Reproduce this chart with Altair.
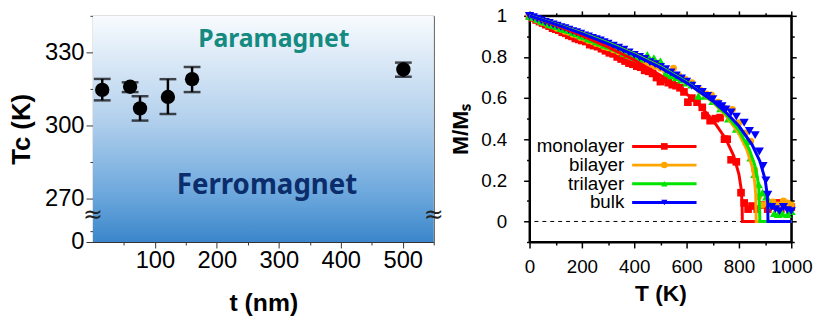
import altair as alt
import pandas as pd

# ---------------- Left panel data: Tc vs thickness ----------------
t_nm = [15, 60, 76, 121, 160, 501]
tc_k = [314.6, 315.9, 307.0, 311.7, 319.0, 323.0]
tc_lo = [310.3, 313.7, 302.0, 304.7, 313.7, 320.0]
tc_hi = [319.1, 317.7, 312.0, 319.0, 324.0, 325.8]

# ---------------- Right panel data: M/Ms vs T ----------------
series_names = ["monolayer", "bilayer", "trilayer", "bulk"]

mono_T = [0, 12, 25, 38, 50, 62, 75, 88, 100, 112, 125, 138, 150, 162, 175, 188, 200, 215, 230, 245,
          260, 275, 290, 305, 320, 335, 350, 365, 380, 395, 410, 425, 440, 455, 470, 485, 500, 515,
          530, 545, 560, 575, 590, 605, 620, 640, 660, 670, 690, 710, 728, 745, 755, 770, 790, 808,
          820, 835, 850, 870, 890, 910, 925, 945, 960, 980, 1000]
mono_M = [1.0, 0.99, 0.98, 0.972, 0.965, 0.957, 0.95, 0.94, 0.935, 0.93, 0.92, 0.915, 0.905, 0.9,
          0.89, 0.885, 0.88, 0.875, 0.86, 0.855, 0.85, 0.84, 0.83, 0.82, 0.815, 0.80, 0.79, 0.78,
          0.77, 0.765, 0.755, 0.75, 0.735, 0.73, 0.72, 0.70, 0.68, 0.69, 0.675, 0.665, 0.66, 0.65,
          0.63, 0.58, 0.60, 0.58, 0.555, 0.515, 0.49, 0.50, 0.505, 0.40, 0.40, 0.30, 0.29, 0.14,
          0.09, 0.06, 0.075, 0.06, 0.08, 0.06, 0.075, 0.09, 0.06, 0.085, 0.07]

bi_T = [0, 15, 30, 45, 60, 75, 90, 105, 120, 135, 150, 165, 180, 195, 210, 225, 240, 255, 270, 285,
        300, 320, 340, 360, 380, 400, 420, 440, 460, 480, 500, 520, 550, 570, 595, 620, 650, 675,
        695, 720, 745, 775, 800, 825, 845, 860, 875, 890, 910, 930, 950, 970, 985, 1000]
bi_M = [1.0, 0.99, 0.98, 0.97, 0.965, 0.955, 0.95, 0.94, 0.935, 0.925, 0.92, 0.91, 0.905, 0.895,
        0.89, 0.88, 0.875, 0.865, 0.86, 0.85, 0.845, 0.835, 0.825, 0.815, 0.805, 0.795, 0.785,
        0.775, 0.765, 0.755, 0.745, 0.73, 0.745, 0.71, 0.69, 0.675, 0.64, 0.62, 0.615, 0.58, 0.55,
        0.545, 0.48, 0.43, 0.39, 0.25, 0.12, 0.08, 0.09, 0.095, 0.08, 0.10, 0.09, 0.08]

tri_T = [0, 15, 30, 45, 60, 75, 90, 105, 120, 135, 150, 165, 180, 195, 210, 225, 240, 255, 270, 285,
         300, 320, 340, 360, 380, 400, 420, 450, 475, 500, 520, 540, 560, 580, 600, 620, 645, 670,
         700, 730, 760, 790, 810, 830, 845, 860, 875, 890, 905, 920, 935, 950, 965, 985, 1000]
tri_M = [1.0, 0.995, 0.985, 0.975, 0.97, 0.96, 0.955, 0.95, 0.94, 0.935, 0.93, 0.92, 0.915, 0.905,
         0.9, 0.89, 0.885, 0.875, 0.87, 0.86, 0.855, 0.845, 0.835, 0.82, 0.81, 0.80, 0.79, 0.81,
         0.795, 0.78, 0.72, 0.71, 0.70, 0.69, 0.675, 0.665, 0.61, 0.61, 0.585, 0.55, 0.50, 0.45,
         0.44, 0.39, 0.31, 0.23, 0.18, 0.14, 0.12, 0.08, 0.04, 0.035, 0.04, 0.035, 0.05]

bulk_T = [0, 15, 30, 45, 60, 75, 90, 105, 120, 135, 150, 165, 180, 195, 210, 225, 240, 255, 270,
          285, 300, 320, 340, 360, 380, 400, 420, 440, 460, 480, 500, 520, 540, 560, 580, 600, 620,
          640, 660, 680, 700, 720, 735, 750, 770, 790, 820, 840, 862, 878, 892, 903, 910, 925, 940,
          955, 970, 985, 1000]
bulk_M = [1.0, 0.993, 0.985, 0.978, 0.97, 0.965, 0.958, 0.952, 0.945, 0.94, 0.932, 0.925, 0.92,
          0.913, 0.905, 0.9, 0.893, 0.886, 0.88, 0.872, 0.865, 0.855, 0.845, 0.835, 0.822, 0.81,
          0.80, 0.79, 0.775, 0.765, 0.752, 0.74, 0.725, 0.71, 0.695, 0.68, 0.66, 0.645, 0.63, 0.61,
          0.595, 0.57, 0.56, 0.545, 0.53, 0.51, 0.48, 0.44, 0.42, 0.34, 0.27, 0.20, 0.13, 0.07,
          0.06, 0.05, 0.07, 0.055, 0.05]

# fitted curves
mono_fit_T = [0, 100, 200, 300, 400, 500, 600, 650, 700, 750, 780, 800, 808, 812, 813, 1000]
mono_fit_M = [1, 0.954, 0.904, 0.848, 0.785, 0.711, 0.62, 0.563, 0.494, 0.401, 0.319, 0.229, 0.163, 0.091, 0, 0]
bi_fit_T = [0, 100, 200, 300, 400, 500, 600, 700, 750, 800, 830, 850, 860, 864, 866, 1000]
bi_fit_M = [1, 0.960, 0.917, 0.869, 0.815, 0.753, 0.677, 0.580, 0.515, 0.427, 0.350, 0.268, 0.194, 0.135, 0, 0]
tri_fit_T = [0, 100, 200, 300, 400, 500, 600, 700, 750, 800, 840, 860, 870, 876, 880, 1000]
tri_fit_M = [1, 0.960, 0.916, 0.868, 0.814, 0.752, 0.678, 0.583, 0.522, 0.443, 0.350, 0.276, 0.218, 0.160, 0, 0]
bulk_fit_T = [0, 100, 200, 300, 400, 500, 600, 700, 750, 800, 850, 880, 900, 906, 910, 911, 1000]
bulk_fit_M = [1, 0.958, 0.913, 0.864, 0.810, 0.748, 0.675, 0.586, 0.531, 0.464, 0.374, 0.293, 0.205, 0.15, 0.09, 0, 0]

# ---------------- styles ----------------
FONT = "Liberation Sans"
colors = ["#ff0000", "#ffa500", "#00e400", "#0000ff"]
shapes = ["square", "circle", "triangle-up", "triangle-down"]
sizes = [60, 50, 80, 85]
legend_sizes = [45, 40, 55, 60]

# ================= LEFT PANEL =================
W1, H1 = 345, 229
left_df = pd.DataFrame({"t": t_nm, "Tc": tc_k, "lo": tc_lo, "hi": tc_hi})
xs1 = alt.Scale(domain=[0, 550], nice=False, zero=False)
ys1 = alt.Scale(domain=[0, 270, 345], range=[H1, 185, 0], nice=False, zero=False)

xaxis1 = alt.Axis(
    values=list(range(50, 551, 50)),
    labelExpr="datum.value % 100 === 0 && datum.value <= 500 ? datum.label : ''",
    tickSize={"condition": {"test": "datum.value % 100 === 0", "value": 6}, "value": 3},
    title="t (nm)", titleFontSize=25, titleFontWeight="bold", titleFont=FONT, titleColor="black",
    titlePadding=18,
    labelFontSize=24, labelFont=FONT, labelColor="black", labelPadding=1,
    labelFlush=False, labelOverlap=False, grid=False,
    domainColor="#333", tickColor="#333", domainWidth=1, tickWidth=1,
)
yaxis1 = alt.Axis(
    values=[0, 70, 270, 285, 300, 315, 330, 345],
    labelExpr="(datum.value === 0 || datum.value % 30 === 0) ? datum.label : ''",
    tickSize={"condition": {"test": "datum.value === 0 || datum.value % 30 === 0", "value": 7}, "value": 3},
    title="Tc (K)", titleFontSize=26, titleFontWeight="bold", titleFont=FONT, titleColor="black",
    titlePadding=10,
    labelFontSize=24, labelFont=FONT, labelColor="black", labelPadding=2,
    labelFlush=False, labelOverlap=False, grid=False,
    domainColor="#333", tickColor="#333", domainWidth=1, tickWidth=1,
)

grad = alt.LinearGradient(
    gradient="linear",
    stops=[alt.GradientStop(color="#f8fbfe", offset=0),
           alt.GradientStop(color="#b4d1ed", offset=0.45),
           alt.GradientStop(color="#6aa6dc", offset=0.8),
           alt.GradientStop(color="#3a86ca", offset=1)],
    x1=0, x2=0, y1=0, y2=1,
)

base1 = alt.Chart(left_df)
bg = alt.Chart(pd.DataFrame({"a": [0]})).mark_rect(fill=grad).encode(
    x=alt.X(datum=0, scale=xs1, axis=xaxis1), x2=alt.X2(datum=550),
    y=alt.Y(datum=0, scale=ys1, axis=yaxis1), y2=alt.Y2(datum=345),
)
X1 = alt.X("t:Q", scale=xs1, axis=xaxis1)
bars = base1.mark_rule(color="black", strokeWidth=2.5).encode(
    x=X1, y=alt.Y("lo:Q", scale=ys1, axis=yaxis1), y2="hi:Q")
cap_lo = base1.mark_tick(color="black", orient="horizontal", size=17, thickness=2.5).encode(
    x=X1, y=alt.Y("lo:Q", scale=ys1, axis=yaxis1))
cap_hi = base1.mark_tick(color="black", orient="horizontal", size=17, thickness=2.5).encode(
    x=X1, y=alt.Y("hi:Q", scale=ys1, axis=yaxis1))
dots = base1.mark_circle(size=210, color="black", opacity=1).encode(
    x=X1, y=alt.Y("Tc:Q", scale=ys1, axis=yaxis1))

para = alt.Chart(pd.DataFrame({"t": [292], "Tc": [335.3], "txt": ["Paramagnet"]})).mark_text(
    font="Noto Sans", fontWeight="bold", fontSize=25, color="#148a80", baseline="middle", align="center"
).encode(x=alt.X("t:Q", scale=xs1, axis=xaxis1), y=alt.Y("Tc:Q", scale=ys1, axis=yaxis1), text="txt:N")
ferro = alt.Chart(pd.DataFrame({"t": [281], "Tc": [275.3], "txt": ["Ferromagnet"]})).mark_text(
    font="Noto Sans", fontWeight="bold", fontSize=28, color="#0c2d6c", baseline="middle", align="center"
).encode(x=alt.X("t:Q", scale=xs1, axis=xaxis1), y=alt.Y("Tc:Q", scale=ys1, axis=yaxis1), text="txt:N")
brk = alt.Chart(pd.DataFrame({"t": [0, 550], "Tc": [166, 166], "txt": ["≈", "≈"]})).mark_text(
    font="DejaVu Sans", fontSize=24, color="#222", baseline="middle", align="center"
).encode(x=alt.X("t:Q", scale=xs1, axis=xaxis1), y=alt.Y("Tc:Q", scale=ys1, axis=yaxis1), text="txt:N")

left = alt.layer(bg, bars, cap_lo, cap_hi, dots, para, ferro, brk).properties(
    width=W1, height=H1, view=alt.ViewBackground(stroke="#333", strokeWidth=1))

# ================= RIGHT PANEL =================
W2, H2 = 265, 229
pt_sets = {
    "monolayer": (mono_T, mono_M),
    "bilayer": (bi_T, bi_M),
    "trilayer": (tri_T, tri_M),
    "bulk": (bulk_T, bulk_M),
}
fits = {
    "monolayer": (mono_fit_T, mono_fit_M),
    "bilayer": (bi_fit_T, bi_fit_M),
    "trilayer": (tri_fit_T, tri_fit_M),
    "bulk": (bulk_fit_T, bulk_fit_M),
}

xs2 = alt.Scale(domain=[0, 1000], nice=False, zero=False)
ys2 = alt.Scale(domain=[-0.1, 1.0], nice=False, zero=False)
xticks2 = list(range(0, 1001, 100))
yticks2 = [-0.1, 0, 0.1, 0.2, 0.3, 0.4, 0.5, 0.6, 0.7, 0.8, 0.9, 1.0]
x_major = "datum.value % 200 === 0"
y_major = "round(datum.value * 10) % 2 === 0"
common2 = dict(grid=False, domainColor="black", tickColor="black", domainWidth=2, tickWidth=1.5,
               labelFlush=False, labelOverlap=False)

xaxis2 = alt.Axis(values=xticks2, labelExpr=x_major + " ? '' + datum.value : ''",
                  tickSize={"condition": {"test": x_major, "value": 6}, "value": 3},
                  labelFontSize=19, labelFont=FONT, labelColor="black", labelPadding=10,
                  title="T (K)", titleFontSize=23, titleFontWeight="bold", titleFont=FONT,
                  titleColor="black", titlePadding=6, **common2)
yaxis2 = alt.Axis(values=yticks2,
                  labelExpr="(datum.value >= 0 && " + y_major + ") ? '' + round(datum.value * 10) / 10 : ''",
                  tickSize={"condition": {"test": y_major, "value": 6}, "value": 3},
                  labelFontSize=19, labelFont=FONT, labelColor="black", labelPadding=17,
                  title="M/Mₛ", titleFontSize=23, titleFontWeight="bold", titleFont=FONT,
                  titleColor="black", titlePadding=8, **common2)
xaxis2_top = alt.Axis(values=xticks2, orient="top", labels=False, title=None,
                      tickSize={"condition": {"test": x_major, "value": 5}, "value": 3}, **common2)
yaxis2_right = alt.Axis(values=yticks2, orient="right", labels=False, title=None,
                        tickSize={"condition": {"test": y_major, "value": 5}, "value": 3}, **common2)

color_scale = alt.Scale(domain=series_names, range=colors)
shape_scale = alt.Scale(domain=series_names, range=shapes)
legsize_scale = alt.Scale(domain=series_names, range=legend_sizes)

zero_rule = alt.Chart(pd.DataFrame({"a": [0]})).mark_rule(
    color="black", strokeWidth=1, strokeDash=[4, 4]
).encode(y=alt.Y(datum=0, scale=ys2, axis=None))

point_layers = []
for i, name in enumerate(series_names):
    T, M = pt_sets[name]
    pdf = pd.DataFrame({"T": T, "M": M, "series": name})
    point_layers.append(
        alt.Chart(pdf).mark_point(filled=True, opacity=1, strokeWidth=0, size=sizes[i]).encode(
            x=alt.X("T:Q", scale=xs2, axis=xaxis2 if i == 0 else None),
            y=alt.Y("M:Q", scale=ys2, axis=yaxis2 if i == 0 else None),
            fill=alt.Fill("series:N", scale=color_scale, legend=None),
            shape=alt.Shape("series:N", scale=shape_scale, legend=None),
        )
    )

line_layers = []
for name in series_names:
    fT, fM = fits[name]
    ldf = pd.DataFrame({"T": fT, "M": fM, "series": name})
    line_layers.append(
        alt.Chart(ldf).mark_line(strokeWidth=3).encode(
            x=alt.X("T:Q", scale=xs2, axis=None),
            y=alt.Y("M:Q", scale=ys2, axis=None),
            stroke=alt.Stroke("series:N", scale=color_scale, legend=None),
            order="T:Q",
        )
    )

# ---- in-plot legend (label, line, marker) placed in the panel's own data units ----
LEG_TEXT_T, LEG_LINE_T0, LEG_LINE_T1, LEG_MARK_T = 362, 392, 638, 515
LEG_M0, LEG_DM = 0.365, 0.091
leg_base = alt.Chart(pd.DataFrame({"series": series_names, "row": list(range(len(series_names)))})
                     ).transform_calculate(M=f"{LEG_M0} - datum.row * {LEG_DM}")
leg_text = leg_base.mark_text(align="right", baseline="middle", fontSize=19, font=FONT, color="black").encode(
    x=alt.X(datum=LEG_TEXT_T, scale=xs2, axis=None), y=alt.Y("M:Q", scale=ys2, axis=None), text="series:N")
leg_line = leg_base.mark_rule(strokeWidth=3).encode(
    x=alt.X(datum=LEG_LINE_T0, scale=xs2, axis=None), x2=alt.X2(datum=LEG_LINE_T1),
    y=alt.Y("M:Q", scale=ys2, axis=None),
    stroke=alt.Stroke("series:N", scale=color_scale, legend=None))
leg_mark = leg_base.mark_point(filled=True, opacity=1, strokeWidth=0).encode(
    x=alt.X(datum=LEG_MARK_T, scale=xs2, axis=None), y=alt.Y("M:Q", scale=ys2, axis=None),
    fill=alt.Fill("series:N", scale=color_scale, legend=None),
    shape=alt.Shape("series:N", scale=shape_scale, legend=None),
    size=alt.Size("series:N", scale=legsize_scale, legend=None))

frame_axes = alt.Chart(pd.DataFrame({"T": [0, 1000], "M": [0, 1]})).mark_point(opacity=0).encode(
    x=alt.X("T:Q", scale=xs2, axis=xaxis2_top),
    y=alt.Y("M:Q", scale=ys2, axis=yaxis2_right),
)

right = alt.layer(zero_rule, *point_layers, *line_layers, leg_text, leg_line, leg_mark, frame_axes
                  ).resolve_axis(x="independent", y="independent"
                  ).properties(width=W2, height=H2, view=alt.ViewBackground(stroke="black", strokeWidth=2))

chart = alt.hconcat(left, right, spacing=97, bounds="flush").properties(
    padding={"left": 0, "top": -7, "right": 0, "bottom": 0}
).configure(background="white")

chart.save("out.html", embed_options={"renderer": "svg", "actions": False})
